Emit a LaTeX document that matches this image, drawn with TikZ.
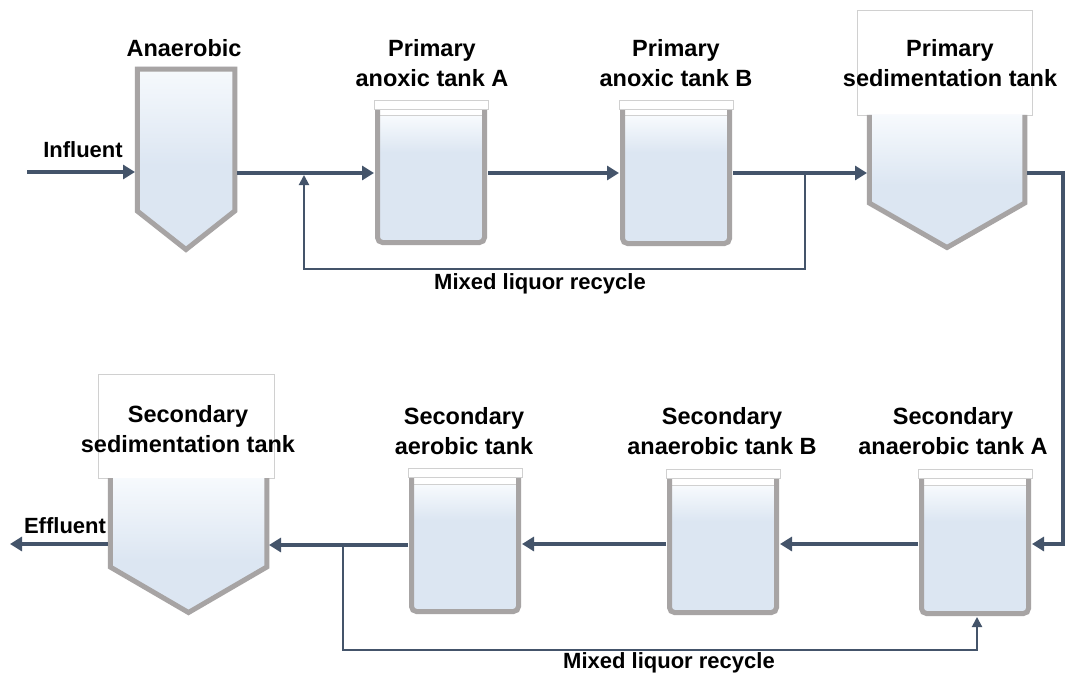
\documentclass[tikz,border=0pt]{standalone}
\usepackage{fontspec}
\setmainfont{Liberation Sans}
\usetikzlibrary{arrows.meta,fit}
\definecolor{flowc}{HTML}{44546A}
\definecolor{wallc}{HTML}{A7A4A4}
\definecolor{waterc}{HTML}{DCE6F2}
\definecolor{watertop}{HTML}{F7FAFD}
\definecolor{lidc}{HTML}{D0D0D0}
\tikzset{
  flowline/.style={draw=flowc, line width=4pt, line join=miter, -{Triangle[length=12pt,width=14pt]}},
  recline/.style={draw=flowc, line width=2pt, -{Triangle[length=10pt,width=10pt]}},
  tanklbl/.style={font=\bfseries\fontsize{23.5}{29.5}\selectfont, align=center, text=black, inner sep=0pt},
  smalllbl/.style={font=\bfseries\fontsize{22}{26}\selectfont, text=black, inner sep=0pt},
  body/.style={inner sep=0pt, outer sep=0pt},
  wallline/.style={draw=wallc, line width=5pt},
}
% rectangular tank: name, left, right, lid top, bottom
\newcommand\rtank[5]{%
  \fill[white] ({#2+5},{#4+9}) rectangle ({#3-5},{#4+16});
  \fill[waterc] ({#2+5},{#4+16}) rectangle ({#3-5},{#5-4});
  \shade[top color=watertop, bottom color=waterc] ({#2+5},{#4+16.5}) rectangle ({#3-5},{#4+52});
  \draw[lidc, line width=1pt] ({#2+5},{#4+16}) -- ({#3-5},{#4+16});
  \draw[wallline, rounded corners=5pt] ({#2+3.5},{#4+9}) -- ({#2+3.5},{#5-2.5}) -- ({#3-3.5},{#5-2.5}) -- ({#3-3.5},{#4+9});
  \draw[lidc, fill=white, line width=0.9pt] (#2,#4) rectangle (#3,{#4+9});
  \node[body, fit={(#2,#4) (#3,#5)}] (#1) {};
}
% pointed tank: name, left, right, top, side bottom, point y, gradient end
\newcommand\ptank[7]{%
  \fill[waterc] ({#2+2},#4) -- ({#2+2},#5) -- ({(#2+#3)/2},{#6-2}) -- ({#3-2},#5) -- ({#3-2},#4) -- cycle;
  \begin{scope}
    \clip ({#2+2},#4) -- ({#2+2},#5) -- ({(#2+#3)/2},{#6-2}) -- ({#3-2},#5) -- ({#3-2},#4) -- cycle;
    \shade[top color=watertop, bottom color=waterc] ({#2},{#4-1}) rectangle ({#3},{#7});
  \end{scope}
  \node[body, fit={(#2,#4) (#3,#6)}] (#1) {};
}
\begin{document}
\begin{tikzpicture}[x=1pt, y=-1pt]
\useasboundingbox[fill=white] (0,0) rectangle (1070,682);

% ---------- top row ----------
% Anaerobic tank
\ptank{an}{135}{237}{67}{212}{252}{165}
\draw[wallline, line join=miter] (137.25,69.25) -- (137.25,211) -- (186,249.5) -- (234.75,211) -- (234.75,69.25) -- cycle;

\rtank{tA}{374}{488}{100}{245}
\rtank{tB}{619}{733}{100}{246}

% Primary sedimentation tank
\draw[lidc, fill=white, line width=0.8pt] (857,10) rectangle (1032,115);
\ptank{pS}{867}{1027}{115}{203}{250}{185}
\draw[wallline, line join=miter] (869.25,115) -- (869.25,203) -- (947,247.5) -- (1024.75,203) -- (1024.75,115);

% ---------- bottom row ----------
\draw[lidc, fill=white, line width=0.8pt] (98,374) rectangle (274,478);
\ptank{sS}{108}{269}{478}{567}{615}{560}
\draw[wallline, line join=miter] (110.25,478) -- (110.25,567) -- (188.5,612.5) -- (266.75,567) -- (266.75,478);

\rtank{sX}{408}{522}{468}{614}
\rtank{sB}{666}{780}{469}{615}
\rtank{sA}{918}{1032}{469}{616}

% ---------- labels ----------
\node[tanklbl] (lan) at (184,48) {Anaerobic};
\node[tanklbl] (ltA) at (432,63) {Primary\\anoxic tank A};
\node[tanklbl] (ltB) at (676,63) {Primary\\anoxic tank B};
\node[tanklbl] (lpS) at (950,63) {Primary\\sedimentation tank};
\node[tanklbl] (lsS) at (188,429) {Secondary\\sedimentation tank};
\node[tanklbl] (lsX) at (464,431) {Secondary\\aerobic tank};
\node[tanklbl] (lsB) at (722,431) {Secondary\\anaerobic tank B};
\node[tanklbl] (lsA) at (953,431) {Secondary\\anaerobic tank A};
\node[smalllbl] (linf) at (83,150) {Influent};
\node[smalllbl] (leff) at (65,526) {Effluent};
\node[smalllbl] (lml1) at (540,284) {Mixed liquor recycle};
\node[smalllbl] (lml2) at (669,663) {Mixed liquor recycle};

% ---------- connectors ----------
\coordinate (r1) at (0,173);
\coordinate (r2) at (0,544);
\coordinate (r3) at (0,545);
\coordinate (inf) at (27,172);
\coordinate (eff) at (10,544);
\coordinate (cr) at (1063,0);

\draw[flowline] (inf) -- (an.west |- inf);
\draw[flowline] (an.east |- r1) -- (tA.west |- r1);
\draw[flowline] (tA.east |- r1) -- (tB.west |- r1);
\draw[flowline] (tB.east |- r1) -- (pS.west |- r1);
\draw[flowline] (pS.east |- r1) -- (cr |- r1) -- (cr |- r2) -- (sA.east |- r2);
\draw[flowline] (sA.west |- r2) -- (sB.east |- r2);
\draw[flowline] (sB.west |- r2) -- (sX.east |- r2);
\draw[flowline] (sX.west |- r3) -- (sS.east |- r3);
\draw[flowline] (sS.west |- eff) -- (eff);

% recycles
\coordinate (rc1) at (805,173);
\coordinate (rc2) at (304,175);
\coordinate (ml1) at (540,269);
\draw[recline] (rc1) -- (rc1 |- ml1) -- (rc2 |- ml1) -- (rc2);

\coordinate (rc3) at (343,545);
\coordinate (rc4) at (977,617);
\coordinate (ml2) at (660,650);
\draw[recline] (rc3) -- (rc3 |- ml2) -- (rc4 |- ml2) -- (rc4);
\end{tikzpicture}
\end{document}
